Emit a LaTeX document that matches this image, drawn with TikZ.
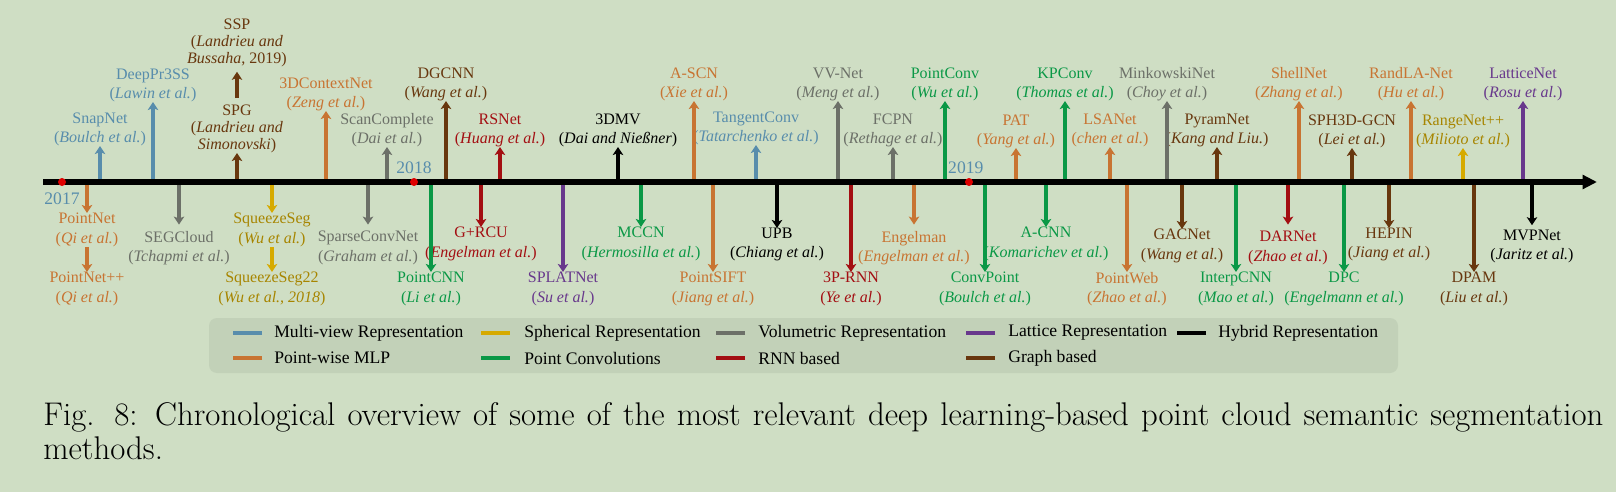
\documentclass[tikz,border=0pt]{standalone}
\usepackage{fontspec}
\newfontfamily\timesfont{Liberation Serif}
\usepackage{tikz}
\usetikzlibrary{arrows.meta,positioning}

\definecolor{bgcol}{RGB}{207,222,196}
\definecolor{legendbg}{RGB}{194,209,184}
\definecolor{mvcol}{RGB}{88,141,172}
\definecolor{sphcol}{RGB}{214,170,0}
\definecolor{volcol}{RGB}{108,112,104}
\definecolor{latcol}{RGB}{104,56,140}
\definecolor{mlpcol}{RGB}{200,116,50}
\definecolor{convcol}{RGB}{10,152,70}
\definecolor{rnncol}{RGB}{163,14,18}
\definecolor{graphcol}{RGB}{104,55,14}
\definecolor{dotcol}{RGB}{222,0,0}

\begin{document}
\begin{tikzpicture}[x=0.625pt,y=-0.625pt,
    every node/.style={inner sep=0pt,align=center,font=\timesfont\fontsize{10}{12}\selectfont},
    up/.style={anchor=south},
    dn/.style={anchor=north},
    tight/.style={font=\timesfont\fontsize{10}{10.6}\selectfont},
    arr/.style={line width=2.2pt,-{Stealth[length=5pt,width=6.5pt,inset=1.2pt]}},
    mvedge/.style={arr,mvcol},
    sphedge/.style={arr,sphcol},
    voledge/.style={arr,volcol},
    latedge/.style={arr,latcol},
    hybedge/.style={arr,black},
    mlpedge/.style={arr,mlpcol},
    convedge/.style={arr,convcol},
    rnnedge/.style={arr,rnncol},
    graphedge/.style={arr,graphcol},
    mvtext/.style={text=mvcol},
    sphtext/.style={text=sphcol!78!black},
    voltext/.style={text=volcol},
    lattext/.style={text=latcol},
    hybtext/.style={text=black},
    mlptext/.style={text=mlpcol},
    convtext/.style={text=convcol},
    rnntext/.style={text=rnncol},
    graphtext/.style={text=graphcol},
    axis/.style={line width=3.2pt,-{Triangle[length=9pt,width=8.5pt]}},
    yeardot/.style={circle,fill=dotcol,minimum size=5pt},
    yearlbl/.style={text=mvcol,font=\timesfont\fontsize{11}{13}\selectfont},
    lgtext/.style={anchor=west,font=\timesfont\fontsize{11}{13}\selectfont},
    key/.style={line width=2.3pt}
]
\useasboundingbox (0,0) rectangle (1616,492);
\fill[bgcol] (0,0) rectangle (1616,492);

\coordinate (o) at (43,182);
\coordinate (end) at (1597,182);

% above the axis
\node[up,mvtext] (snapnet) at (100,146) {SnapNet\\(\textit{Boulch et al.})};
\node[up,mvtext] (deeppr3ss) at (153,102) {DeepPr3SS\\(\textit{Lawin et al.})};
\node[up,graphtext,tight] (spg) at (237,153) {SPG\\(\textit{Landrieu and}\\\textit{Simonovski})};
\node[up,graphtext,tight] (ssp) at (237,67) {SSP\\(\textit{Landrieu and}\\\textit{Bussaha}, 2019)};
\node[up,mlptext] (contextnet) at (326,111) {3DContextNet\\(\textit{Zeng et al.})};
\node[up,voltext] (scancomplete) at (387,147) {ScanComplete\\(\textit{Dai et al.})};
\node[up,graphtext] (dgcnn) at (446,101) {DGCNN\\(\textit{Wang et al.})};
\node[up,rnntext] (rsnet) at (500,147) {RSNet\\(\textit{Huang et al.})};
\node[up,hybtext] (dmv) at (618,147) {3DMV\\(\textit{Dai and Nießner})};
\node[up,mlptext] (ascn) at (694,101) {A-SCN\\(\textit{Xie et al.})};
\node[up,mvtext] (tangentconv) at (756,145) {TangentConv\\(\textit{Tatarchenko et al.})};
\node[up,voltext] (vvnet) at (838,101) {VV-Net\\(\textit{Meng et al.})};
\node[up,voltext] (fcpn) at (893,147) {FCPN\\(\textit{Rethage et al.})};
\node[up,convtext] (pointconv) at (945,101) {PointConv\\(\textit{Wu et al.})};
\node[up,mlptext] (pat) at (1016,148) {PAT\\(\textit{Yang et al.})};
\node[up,convtext] (kpconv) at (1065,101) {KPConv\\(\textit{Thomas et al.})};
\node[up,mlptext] (lsanet) at (1110,147) {LSANet\\(\textit{chen et al.})};
\node[up,voltext] (minkowskinet) at (1167,101) {MinkowskiNet\\(\textit{Choy et al.})};
\node[up,graphtext] (pyramnet) at (1217,147) {PyramNet\\(\textit{Kang and Liu.})};
\node[up,mlptext] (shellnet) at (1299,101) {ShellNet\\(\textit{Zhang et al.})};
\node[up,graphtext] (sphgcn) at (1352,148) {SPH3D-GCN\\(\textit{Lei et al.})};
\node[up,mlptext] (randlanet) at (1411,101) {RandLA-Net\\(\textit{Hu et al.})};
\node[up,sphtext] (rangenet) at (1463,148) {RangeNet++\\(\textit{Milioto et al.})};
\node[up,lattext] (latticenet) at (1523,101) {LatticeNet\\(\textit{Rosu et al.})};

% below the axis
\node[dn,mlptext] (pointnet) at (87,213) {PointNet\\(\textit{Qi et al.})};
\node[dn,mlptext] (pointnetpp) at (87,272) {PointNet++\\(\textit{Qi et al.})};
\node[dn,voltext] (segcloud) at (179,231) {SEGCloud\\(\textit{Tchapmi et al.})};
\node[dn,sphtext] (squeezeseg) at (272,213) {SqueezeSeg\\(\textit{Wu et al.})};
\node[dn,sphtext] (squeezeseg22) at (272,272) {SqueezeSeg22\\(\textit{Wu et al., 2018})};
\node[dn,voltext] (sparseconvnet) at (368,231) {SparseConvNet\\(\textit{Graham et al.})};
\node[dn,convtext] (pointcnn) at (431,272) {PointCNN\\(\textit{Li et al.})};
\node[dn,rnntext] (grcu) at (481,227) {G+RCU\\(\textit{Engelman et al.})};
\node[dn,lattext] (splatnet) at (563,272) {SPLATNet\\(\textit{Su et al.})};
\node[dn,convtext] (mccn) at (641,227) {MCCN\\(\textit{Hermosilla et al.})};
\node[dn,mlptext] (pointsift) at (713,272) {PointSIFT\\(\textit{Jiang et al.})};
\node[dn,hybtext] (upb) at (777,228) {UPB\\(\textit{Chiang et al.})};
\node[dn,rnntext] (prnn) at (851,272) {3P-RNN\\(\textit{Ye et al.})};
\node[dn,mlptext] (engelman) at (914,231) {Engelman\\(\textit{Engelman et al.})};
\node[dn,convtext] (convpoint) at (985,272) {ConvPoint\\(\textit{Boulch et al.})};
\node[dn,convtext] (acnn) at (1046,227) {A-CNN\\(\textit{Komarichev et al.})};
\node[dn,mlptext] (pointweb) at (1127,272) {PointWeb\\(\textit{Zhao et al.})};
\node[dn,graphtext] (gacnet) at (1182,229) {GACNet\\(\textit{Wang et al.})};
\node[dn,convtext] (interpcnn) at (1236,272) {InterpCNN\\(\textit{Mao et al.})};
\node[dn,rnntext] (darnet) at (1288,231) {DARNet\\(\textit{Zhao et al.})};
\node[dn,convtext] (dpc) at (1344,272) {DPC\\(\textit{Engelmann et al.})};
\node[dn,graphtext] (hepin) at (1389,228) {HEPIN\\(\textit{Jiang et al.})};
\node[dn,graphtext] (dpam) at (1474,272) {DPAM\\(\textit{Liu et al.})};
\node[dn,hybtext] (mvpnet) at (1532,230) {MVPNet\\(\textit{Jaritz et al.})};

\path[mvedge]
    (snapnet |- o) edge (snapnet)
    (deeppr3ss |- o) edge (deeppr3ss)
    (tangentconv |- o) edge (tangentconv);
\path[sphedge]
    (squeezeseg |- o) edge (squeezeseg)
    (squeezeseg) edge (squeezeseg22)
    (rangenet |- o) edge (rangenet);
\path[voledge]
    (segcloud |- o) edge[shorten >=4pt] (segcloud)
    (sparseconvnet |- o) edge[shorten >=4pt] (sparseconvnet)
    (scancomplete |- o) edge (scancomplete)
    (vvnet |- o) edge (vvnet)
    (fcpn |- o) edge (fcpn)
    (minkowskinet |- o) edge (minkowskinet);
\path[latedge]
    (splatnet |- o) edge (splatnet)
    (latticenet |- o) edge (latticenet);
\path[hybedge]
    (dmv |- o) edge (dmv)
    (upb |- o) edge (upb)
    (mvpnet |- o) edge[shorten >=3pt] (mvpnet);
\path[mlpedge]
    (pointnet |- o) edge (pointnet)
    (pointnet) edge (pointnetpp)
    (contextnet |- o) edge (contextnet)
    (ascn |- o) edge (ascn)
    (pointsift |- o) edge (pointsift)
    (engelman |- o) edge[shorten >=4pt] (engelman)
    (pat |- o) edge (pat)
    (lsanet |- o) edge (lsanet)
    (pointweb |- o) edge (pointweb)
    (shellnet |- o) edge (shellnet)
    (randlanet |- o) edge (randlanet);
\path[convedge]
    (pointcnn |- o) edge (pointcnn)
    (mccn |- o) edge (mccn)
    (pointconv |- o) edge (pointconv)
    (convpoint |- o) edge (convpoint)
    (acnn |- o) edge (acnn)
    (kpconv |- o) edge (kpconv)
    (interpcnn |- o) edge (interpcnn)
    (dpc |- o) edge (dpc);
\path[rnnedge]
    (grcu |- o) edge (grcu)
    (rsnet |- o) edge (rsnet)
    (prnn |- o) edge (prnn)
    (darnet |- o) edge[shorten >=4pt] (darnet);
\path[graphedge]
    (spg |- o) edge (spg)
    (spg) edge[shorten <=4pt,shorten >=3pt] (ssp)
    (dgcnn |- o) edge (dgcnn)
    (gacnet |- o) edge (gacnet)
    (pyramnet |- o) edge (pyramnet)
    (sphgcn |- o) edge (sphgcn)
    (hepin |- o) edge (hepin)
    (dpam |- o) edge (dpam);

\draw[axis] (o) -- (end);

\node[yeardot] (y17) at (62,182) {};
\node[yeardot] (y18) at (414,182) {};
\node[yeardot] (y19) at (969,182) {};
\node[yearlbl,below=4pt of y17] (l17) {2017};
\node[yearlbl,above=2.5pt of y18] (l18) {2018};
\node[yearlbl,above=2.5pt of y19,xshift=-2pt] (l19) {2019};

% legend
\fill[legendbg,rounded corners=5pt] (209,318) rectangle (1398,373);
\node[lgtext] (lg-mv) at (274,333) {Multi-view Representation};
\node[lgtext] (lg-sph) at (524,333) {Spherical Representation};
\node[lgtext] (lg-vol) at (758,333) {Volumetric Representation};
\node[lgtext] (lg-lat) at (1008,333) {Lattice Representation};
\node[lgtext] (lg-hyb) at (1218,333) {Hybrid Representation};
\node[lgtext] (lg-mlp) at (274,358) {Point-wise MLP};
\node[lgtext] (lg-conv) at (524,358) {Point Convolutions};
\node[lgtext] (lg-rnn) at (758,358) {RNN based};
\node[lgtext] (lg-graph) at (1008,358) {Graph based};
\draw[key,mvcol] ([xshift=-7.5pt]lg-mv.west) -- ++(-29,0);
\draw[key,sphcol] ([xshift=-9pt]lg-sph.west) -- ++(-29,0);
\draw[key,volcol] ([xshift=-8pt]lg-vol.west) -- ++(-29,0);
\draw[key,latcol] ([xshift=-8pt]lg-lat.west) -- ++(-29,0);
\draw[key,black] ([xshift=-7.5pt]lg-hyb.west) -- ++(-29,0);
\draw[key,mlpcol] ([xshift=-7.5pt]lg-mlp.west) -- ++(-29,0);
\draw[key,convcol] ([xshift=-9pt]lg-conv.west) -- ++(-29,0);
\draw[key,rnncol] ([xshift=-8pt]lg-rnn.west) -- ++(-29,0);
\draw[key,graphcol] ([xshift=-8pt]lg-graph.west) -- ++(-29,0);

\node[anchor=west,text width=975pt,align=justify,font=\fontsize{20.5}{21}\selectfont] (caption) at (43,431)
    {Fig. 8: Chronological overview of some of the most relevant deep learning-based point cloud semantic segmentation\linebreak methods.};
\end{tikzpicture}
\end{document}
